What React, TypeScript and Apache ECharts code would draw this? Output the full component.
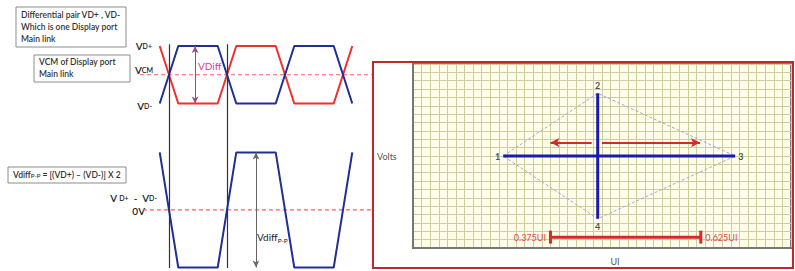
import React, { useEffect, useRef } from "react";
import * as echarts from "echarts";

// ---- Left panel: differential waveforms (time in UI, level in arbitrary volts) ----
const edgeTimes = [-0.16, 0.16, 0.84, 1.16, 1.84, 2.16, 2.84, 3.16];
const vdBlue = [1.85, 2.85, 2.85, 1.85, 1.85, 2.85, 2.85, 1.85];
const vdRed = [2.85, 1.85, 1.85, 2.85, 2.85, 1.85, 1.85, 2.85];
const vdiffWave = [1, -1, -1, 1, 1, -1, -1, 1];
const vcmLevel = 2.35;
const zeroLevel = 0;
const crossingTimes = [0, 1];
const refLineSpan = [-0.5, 3.5];
const vdiffArrowT = 0.45;
const vdiffPPArrowT = 1.5;

// ---- Right panel: eye mask (grid cells) ----
const eyeLabels = ["1", "2", "3", "4"];
const eyeX = [10.5, 21.5, 37.5, 21.5];
const eyeY = [11, 18.5, 11, 3.5];
const arrowY = 12.6;
const arrowLeft = [20.8, 16];
const arrowRight = [22, 33.4];
const uiBarX = [16, 33.5];
const uiBarY = 1.3;
const uiBarLabels = ["0.375UI", "0.625UI"];

const BLUE = "#1f2f96";
const RED = "#f22f2f";
const FONT = "Lato, 'Open Sans', sans-serif";

export default function App() {
  const ref = useRef<HTMLDivElement>(null);
  useEffect(() => {
    if (!ref.current) return;
    const chart = echarts.init(ref.current, null, { renderer: "svg" });
    const pts = (xs: number[], ys: number[]) => xs.map((x, i) => [x, ys[i]]);
    const boxText = (x: number, y: number, t: string, size = 8.5) => ({
      type: "text",
      x,
      y,
      style: { text: t, fontSize: size, fontFamily: FONT, fill: "#333", fontWeight: 600, verticalAlign: "middle" },
    });
    const sub = (x: number, y: number, big: string, small: string, align = "right") => ({
      type: "text",
      x,
      y,
      style: {
        text: `{a|${big}}{b|${small}}`,
        align,
        verticalAlign: "middle",
        rich: {
          a: { fontSize: 10, fontFamily: FONT, fill: "#222", fontWeight: 600 },
          b: { fontSize: 7, fontFamily: FONT, fill: "#222", fontWeight: 600 },
        },
      },
    });
    const option: any = {
      animation: false,
      backgroundColor: "#ffffff",
      grid: [
        { left: 140, top: 40.25, width: 232, height: 230.1, show: false },
        {
          left: 413,
          top: 64,
          width: 378,
          height: 184,
          show: true,
          backgroundColor: "#fdfdea",
          borderColor: "#7a7a7a",
          borderWidth: 2,
        },
      ],
      xAxis: [
        { gridIndex: 0, type: "value", min: -0.5, max: 3.5, show: false },
        {
          gridIndex: 1,
          type: "value",
          min: 0,
          max: 44,
          interval: 1,
          axisLabel: { show: false },
          axisTick: { show: false },
          axisLine: { show: true, lineStyle: { color: "#777", width: 2 } },
          splitLine: { show: true, lineStyle: { color: "#cdcd9e", width: 1 } },
        },
      ],
      yAxis: [
        { gridIndex: 0, type: "value", min: -1.05, max: 2.95, show: false },
        {
          gridIndex: 1,
          type: "value",
          min: 0,
          max: 22,
          interval: 1,
          axisLabel: { show: false },
          axisTick: { show: false },
          axisLine: { show: true, lineStyle: { color: "#777", width: 2 } },
          splitLine: { show: true, lineStyle: { color: "#cdcd9e", width: 1 } },
        },
      ],
      series: [
        {
          type: "line",
          xAxisIndex: 0,
          yAxisIndex: 0,
          data: pts(refLineSpan, [vcmLevel, vcmLevel]),
          symbol: "none",
          silent: true,
          lineStyle: { color: "#ff5c5c", width: 1.2, type: [4, 3] },
          markLine: {
            silent: true,
            symbol: ["none", "none"],
            label: { show: false },
            lineStyle: { color: "#333", width: 1.2, type: "solid" },
            data: crossingTimes.map((t) => [{ coord: [t, 2.88] }, { coord: [t, -1.01] }]),
          },
        },
        {
          type: "line",
          xAxisIndex: 0,
          yAxisIndex: 0,
          data: pts([refLineSpan[0] + 0.05, refLineSpan[1]], [zeroLevel, zeroLevel]),
          symbol: "none",
          silent: true,
          lineStyle: { color: "#ff5c5c", width: 1.2, type: [4, 3] },
          markLine: {
            silent: true,
            symbol: ["arrow", "arrow"],
            symbolSize: [5, 7],
            label: { show: false },
            data: [
              [
                { coord: [vdiffArrowT, 2.85], lineStyle: { color: "#a04a7c", width: 1, type: "solid" } },
                { coord: [vdiffArrowT, 1.85] },
              ],
              [
                { coord: [vdiffPPArrowT, 1], lineStyle: { color: "#666", width: 1, type: "solid" } },
                { coord: [vdiffPPArrowT, -1] },
              ],
            ],
          },
        },
        {
          type: "line",
          xAxisIndex: 0,
          yAxisIndex: 0,
          data: pts(edgeTimes, vdRed),
          symbol: "none",
          silent: true,
          lineStyle: { color: RED, width: 2 },
        },
        {
          type: "line",
          xAxisIndex: 0,
          yAxisIndex: 0,
          data: pts(edgeTimes, vdBlue),
          symbol: "none",
          silent: true,
          lineStyle: { color: BLUE, width: 2 },
        },
        {
          type: "line",
          xAxisIndex: 0,
          yAxisIndex: 0,
          data: pts(edgeTimes, vdiffWave),
          symbol: "none",
          silent: true,
          lineStyle: { color: BLUE, width: 2 },
        },
        // eye diamond (dashed)
        {
          type: "line",
          xAxisIndex: 1,
          yAxisIndex: 1,
          data: pts([eyeX[0], eyeX[1], eyeX[2], eyeX[3], eyeX[0]], [eyeY[0], eyeY[1], eyeY[2], eyeY[3], eyeY[0]]),
          symbol: "none",
          silent: true,
          lineStyle: { color: "#a6a6dc", width: 1, type: [3, 2] },
        },
        {
          type: "line",
          xAxisIndex: 1,
          yAxisIndex: 1,
          data: pts([eyeX[0], eyeX[2]], [eyeY[0], eyeY[2]]),
          symbol: "none",
          silent: true,
          lineStyle: { color: "#1a1ab0", width: 3 },
        },
        {
          type: "line",
          xAxisIndex: 1,
          yAxisIndex: 1,
          data: pts([eyeX[1], eyeX[3]], [eyeY[1], eyeY[3]]),
          symbol: "none",
          silent: true,
          lineStyle: { color: "#1a1ab0", width: 3 },
          markLine: {
            silent: true,
            symbol: ["none", "arrow"],
            symbolSize: [7, 9],
            label: { show: false },
            lineStyle: { color: "#d42a2a", width: 2, type: "solid" },
            data: [
              [{ coord: [arrowLeft[0], arrowY] }, { coord: [arrowLeft[1], arrowY] }],
              [{ coord: [arrowRight[0], arrowY] }, { coord: [arrowRight[1], arrowY] }],
            ],
          },
        },
        {
          type: "scatter",
          xAxisIndex: 1,
          yAxisIndex: 1,
          symbolSize: 0,
          silent: true,
          data: eyeLabels.map((l, i) => ({
            value: [eyeX[i], eyeY[i]],
            label: {
              show: true,
              formatter: l,
              position: ["left", "top", "right", "bottom"][i],
              distance: 3,
              fontSize: 9,
              fontWeight: "bold",
              color: "#222",
              fontFamily: FONT,
            },
          })),
        },
        {
          type: "line",
          xAxisIndex: 1,
          yAxisIndex: 1,
          data: uiBarX.map((x, i) => ({
            value: [x, uiBarY],
            label: {
              show: true,
              formatter: uiBarLabels[i],
              position: i === 0 ? "left" : "right",
              distance: 3,
              fontSize: 9,
              color: "#e04848",
              fontFamily: FONT,
            },
          })),
          symbol: "rect",
          symbolSize: [3, 13],
          showSymbol: true,
          itemStyle: { color: "#d42a2a" },
          silent: true,
          lineStyle: { color: "#d42a2a", width: 3 },
        },
      ],
      graphic: [
        { type: "rect", shape: { x: 16, y: 7, width: 110, height: 40 }, style: { fill: "#fff", stroke: "#8c8c8c", lineWidth: 1 } },
        boxText(21, 15, "Differential pair VD+ , VD-"),
        boxText(21, 27, "Which is one Display port"),
        boxText(21, 39, "Main link"),
        { type: "rect", shape: { x: 34, y: 55, width: 96, height: 27 }, style: { fill: "#fff", stroke: "#8c8c8c", lineWidth: 1 } },
        boxText(39, 62, "VCM of Display port"),
        boxText(39, 74, "Main link"),
        { type: "rect", shape: { x: 8, y: 167, width: 118, height: 16 }, style: { fill: "#fff", stroke: "#8c8c8c", lineWidth: 1 } },
        {
          type: "text",
          x: 13,
          y: 175,
          style: {
            text: "{a|Vdiff}{b|P-P}{a| = [(VD+) – (VD-)] X 2}",
            verticalAlign: "middle",
            rich: {
              a: { fontSize: 8.5, fontFamily: FONT, fill: "#333", fontWeight: 600 },
              b: { fontSize: 6, fontFamily: FONT, fill: "#333", fontWeight: 600 },
            },
          },
        },
        sub(152, 46, "V", "D+"),
        sub(153, 70, "V", "CM"),
        sub(152, 106, "V", "D-"),
        {
          type: "text",
          x: 157,
          y: 198,
          style: {
            text: "{a|V }{b|D+}{a|  -  V}{b|D-}",
            align: "right",
            verticalAlign: "middle",
            rich: {
              a: { fontSize: 10, fontFamily: FONT, fill: "#222", fontWeight: 600 },
              b: { fontSize: 7, fontFamily: FONT, fill: "#222", fontWeight: 600 },
            },
          },
        },
        { type: "text", x: 145, y: 211, style: { text: "0V", align: "right", verticalAlign: "middle", fontSize: 10, fontFamily: FONT, fill: "#222", fontWeight: 600 } },
        { type: "text", x: 198, y: 66, style: { text: "VDiff", verticalAlign: "middle", fontSize: 10, fontFamily: FONT, fill: "#d23c9e" } },
        {
          type: "text",
          x: 257,
          y: 237,
          style: {
            text: "{a|Vdiff}{b|P-P}",
            verticalAlign: "middle",
            rich: {
              a: { fontSize: 10, fontFamily: FONT, fill: "#222" },
              b: { fontSize: 6.5, fontFamily: FONT, fill: "#222", padding: [6, 0, 0, 0] },
            },
          },
        },
        { type: "text", x: 377, y: 156, style: { text: "Volts", verticalAlign: "middle", fontSize: 9, fontFamily: FONT, fill: "#555" } },
        { type: "text", x: 615, y: 261, style: { text: "UI", align: "center", verticalAlign: "middle", fontSize: 9, fontFamily: FONT, fill: "#555" } },
        { type: "rect", shape: { x: 373, y: 62, width: 420, height: 206 }, style: { fill: "none", stroke: "#c4262b", lineWidth: 2 }, z: 100 },
      ],
    };
    chart.setOption(option);
    return () => chart.dispose();
  }, []);
  return <div ref={ref} style={{ position: "absolute", left: 0, top: 0, width: 795, height: 271 }} />;
}
